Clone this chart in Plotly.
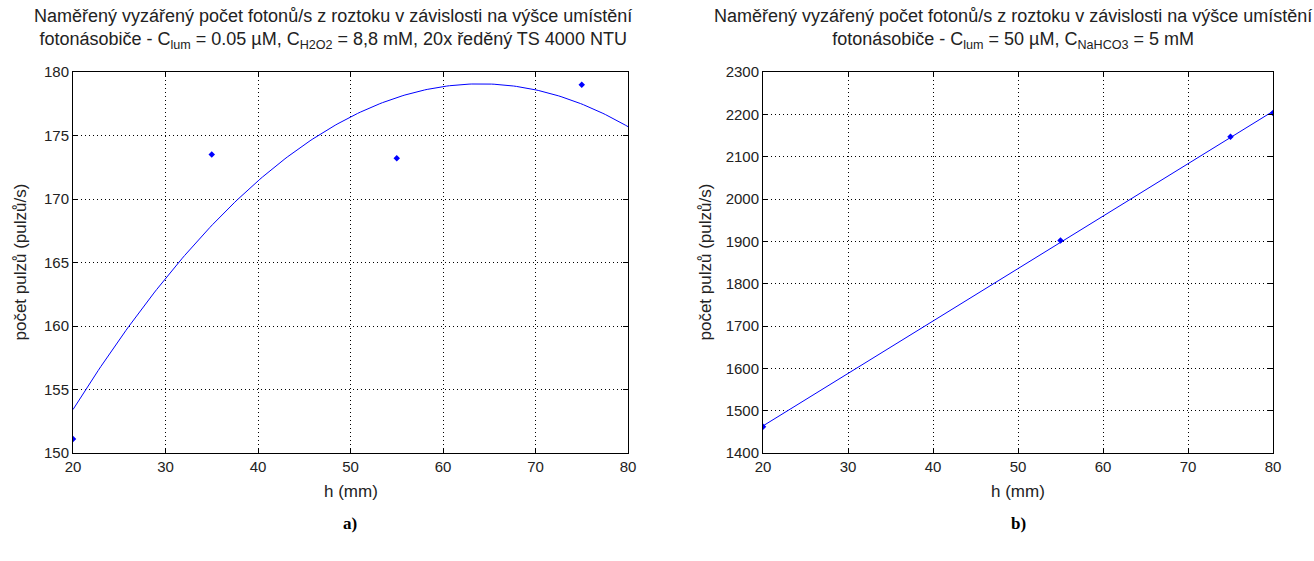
import numpy as np
import plotly.graph_objects as go
from plotly.subplots import make_subplots

# Panel a): measured counts vs. photomultiplier height
h_a = [20, 35, 55, 75]
counts_a = [151.1, 173.5, 173.2, 179.0]

# Panel b)
h_b = [20, 55, 75, 80]
counts_b = [1462, 1902, 2147, 2203]

title_a = ("Naměřený vyzářený počet fotonů/s z roztoku v závislosti na výšce umístění<br>"
           "fotonásobiče - C<sub>lum</sub> = 0.05 µM, C<sub>H2O2</sub> = 8,8 mM, 20x ředěný TS 4000 NTU")
title_b = ("Naměřený vyzářený počet fotonů/s z roztoku v závislosti na výšce umístění<br>"
           "fotonásobiče - C<sub>lum</sub> = 50 µM, C<sub>NaHCO3</sub> = 5 mM")
x_title = "h (mm)"
y_title = "počet pulzů (pulzů/s)"

BLUE = "rgb(0,0,255)"
FONT = "Liberation Sans, Arial, sans-serif"
TXT = "#222"
W, H = 1314, 561

# quadratic trend for a), linear trend for b)
xs = np.linspace(20, 80, 200)
fit_a = np.polyval(np.polyfit(h_a, counts_a, 2), xs)
fit_b = np.polyval(np.polyfit(h_b, counts_b, 1), xs)

fig = make_subplots(rows=1, cols=2)

fig.add_trace(go.Scatter(x=xs, y=fit_a, mode="lines",
                         line=dict(color=BLUE, width=1)), row=1, col=1)
fig.add_trace(go.Scatter(x=h_a, y=counts_a, mode="markers",
                         marker=dict(color=BLUE, symbol="diamond", size=5)), row=1, col=1)
fig.add_trace(go.Scatter(x=xs, y=fit_b, mode="lines",
                         line=dict(color=BLUE, width=1)), row=1, col=2)
fig.add_trace(go.Scatter(x=h_b, y=counts_b, mode="markers",
                         marker=dict(color=BLUE, symbol="diamond", size=5)), row=1, col=2)

axis_style = dict(
    showline=True, linecolor="black", linewidth=1, mirror="ticks",
    ticks="inside", ticklen=5, tickcolor="black",
    showgrid=True, gridcolor="black", griddash="1px,3px", gridwidth=1,
    zeroline=False, automargin=False,
    tickfont=dict(family=FONT, size=15, color=TXT),
)

# plot-area extents in pixels
ax_a = (73, 628)
ax_b = (763, 1273)
top_px, bot_px = 72, 453
y_top = 1 - top_px / H
y_bot = 1 - bot_px / H

fig.update_xaxes(axis_style)
fig.update_yaxes(axis_style)

fig.update_xaxes(range=[20, 80], dtick=10, domain=[ax_a[0] / W, ax_a[1] / W], row=1, col=1)
fig.update_xaxes(range=[20, 80], dtick=10, domain=[ax_b[0] / W, ax_b[1] / W], row=1, col=2)
fig.update_yaxes(range=[150, 180], dtick=5, domain=[y_bot, y_top], row=1, col=1)
fig.update_yaxes(range=[1400, 2300], dtick=100, domain=[y_bot, y_top], row=1, col=2)


def label(text, x_px, y_px, size=15, angle=0, family=FONT, color=TXT, yanchor="middle"):
    return dict(text=text, x=x_px / W, y=1 - y_px / H, xref="paper", yref="paper",
                xanchor="center", yanchor=yanchor, showarrow=False, textangle=angle,
                font=dict(family=family, size=size, color=color))


annotations = [
    label(title_a, 333, 4, size=18, yanchor="top"),
    label(title_b, 1013, 4, size=18, yanchor="top"),
    label(x_title, sum(ax_a) / 2, 491, size=17),
    label(x_title, sum(ax_b) / 2, 491, size=17),
    label(y_title, 20, (top_px + bot_px) / 2, size=17, angle=-90),
    label(y_title, 705, (top_px + bot_px) / 2, size=17, angle=-90),
    label("<b>a)</b>", 350, 523, size=17, family="Liberation Serif, Times New Roman, serif", color="black"),
    label("<b>b)</b>", 1018, 523, size=17, family="Liberation Serif, Times New Roman, serif", color="black"),
]

fig.update_layout(
    width=W, height=H,
    margin=dict(l=0, r=0, t=0, b=0),
    paper_bgcolor="white", plot_bgcolor="white",
    showlegend=False,
    annotations=annotations,
)

fig.write_html("out.html")
